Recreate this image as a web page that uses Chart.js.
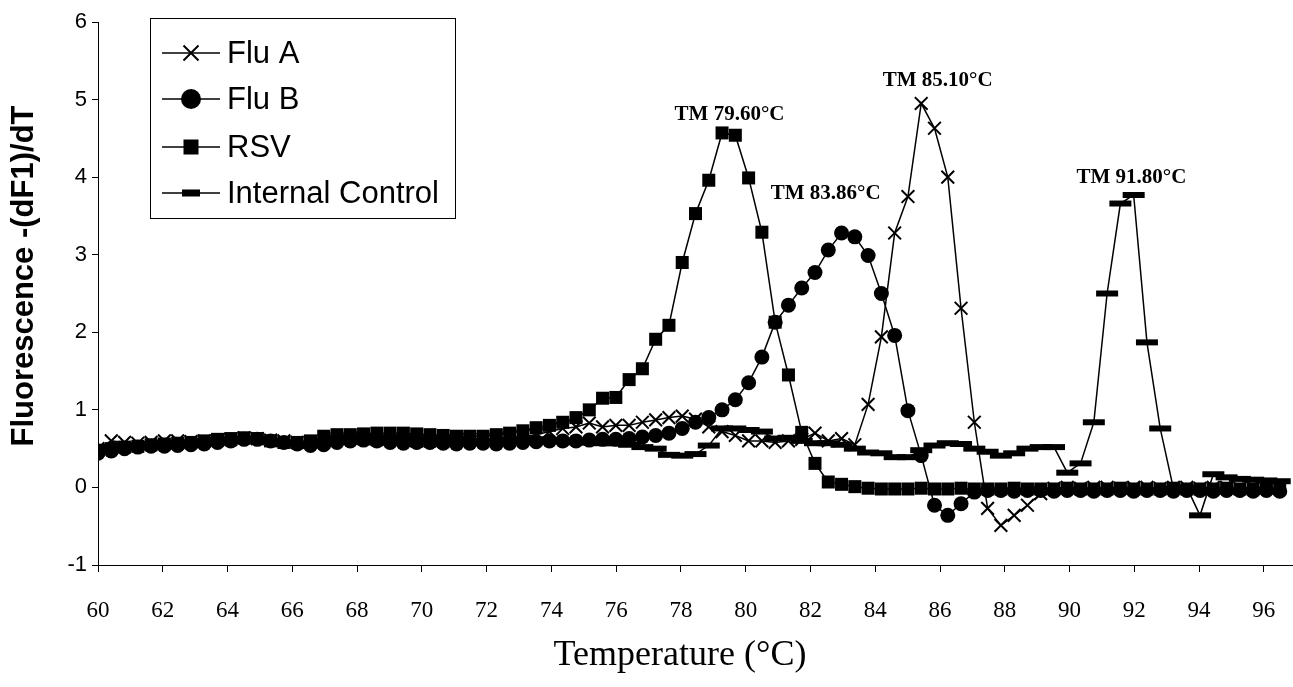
<!DOCTYPE html>
<html><head><meta charset="utf-8">
<script src="https://cdn.jsdelivr.net/npm/chart.js@4.4.1/dist/chart.umd.min.js"></script>
<style>html,body{margin:0;padding:0;background:#fff;}canvas{display:block;}</style>
</head><body>
<canvas id="c" width="1293" height="687"></canvas>
<script>
// ---- data ----
const temperatures = [
 60.00, 60.41, 60.82, 61.23, 61.64, 62.05, 62.46, 62.87, 63.28, 63.69,
 64.10, 64.51, 64.92, 65.33, 65.74, 66.15, 66.56, 66.97, 67.38, 67.79,
 68.20, 68.61, 69.02, 69.43, 69.84, 70.25, 70.66, 71.07, 71.48, 71.89,
 72.30, 72.71, 73.12, 73.53, 73.94, 74.35, 74.76, 75.17, 75.58, 75.99,
 76.40, 76.81, 77.22, 77.63, 78.04, 78.45, 78.86, 79.27, 79.68, 80.09,
 80.50, 80.91, 81.32, 81.73, 82.14, 82.55, 82.96, 83.37, 83.78, 84.19,
 84.60, 85.01, 85.42, 85.83, 86.24, 86.65, 87.06, 87.47, 87.88, 88.29,
 88.70, 89.11, 89.52, 89.93, 90.34, 90.75, 91.16, 91.57, 91.98, 92.39,
 92.80, 93.21, 93.62, 94.03, 94.44, 94.85, 95.26, 95.67, 96.08, 96.49
];
const fluA = [
 0.50, 0.60, 0.58, 0.57, 0.58, 0.60, 0.60, 0.59, 0.60, 0.61,
 0.62, 0.64, 0.63, 0.61, 0.60, 0.58, 0.58, 0.60, 0.63, 0.64,
 0.63, 0.62, 0.62, 0.61, 0.60, 0.60, 0.60, 0.61, 0.62, 0.62,
 0.63, 0.64, 0.66, 0.68, 0.72, 0.76, 0.78, 0.83, 0.78, 0.80,
 0.80, 0.84, 0.87, 0.90, 0.92, 0.88, 0.78, 0.72, 0.67, 0.60,
 0.60, 0.58, 0.60, 0.62, 0.70, 0.60, 0.63, 0.55, 1.07, 1.94,
 3.28, 3.75, 4.95, 4.63, 4.00, 2.31, 0.84, -0.27, -0.49, -0.36,
 -0.23, -0.08, -0.01, 0.00, -0.01, 0.00, 0.00, -0.01, 0.00, 0.00,
 -0.01, 0.00, 0.00, -0.01, 0.00, 0.00, -0.01, 0.00, 0.00, -0.01
];
const fluB = [
 0.44, 0.47, 0.50, 0.52, 0.53, 0.53, 0.54, 0.55, 0.56, 0.58,
 0.60, 0.62, 0.62, 0.60, 0.58, 0.56, 0.54, 0.55, 0.58, 0.60,
 0.61, 0.60, 0.58, 0.57, 0.58, 0.58, 0.57, 0.56, 0.57, 0.57,
 0.56, 0.57, 0.58, 0.59, 0.60, 0.60, 0.60, 0.61, 0.62, 0.62,
 0.63, 0.65, 0.67, 0.70, 0.76, 0.84, 0.90, 1.00, 1.13, 1.35,
 1.68, 2.13, 2.35, 2.57, 2.77, 3.06, 3.28, 3.23, 2.99, 2.50,
 1.96, 0.99, 0.41, -0.23, -0.36, -0.21, -0.06, -0.04, -0.04, -0.05,
 -0.04, -0.04, -0.05, -0.04, -0.04, -0.05, -0.04, -0.04, -0.05, -0.04,
 -0.04, -0.05, -0.04, -0.04, -0.05, -0.04, -0.04, -0.05, -0.04, -0.05
];
const rsv = [
 0.48, 0.50, 0.52, 0.53, 0.55, 0.56, 0.57, 0.58, 0.60, 0.62,
 0.63, 0.64, 0.63, 0.60, 0.58, 0.58, 0.60, 0.66, 0.68, 0.68,
 0.69, 0.70, 0.70, 0.70, 0.69, 0.68, 0.67, 0.66, 0.66, 0.66,
 0.68, 0.70, 0.73, 0.77, 0.80, 0.84, 0.90, 1.00, 1.15, 1.16,
 1.39, 1.53, 1.91, 2.09, 2.90, 3.53, 3.96, 4.57, 4.54, 3.99,
 3.29, 2.13, 1.45, 0.71, 0.31, 0.07, 0.04, 0.01, -0.01, -0.02,
 -0.02, -0.02, -0.01, -0.02, -0.02, -0.01, -0.02, -0.02, -0.02, -0.01,
 -0.02, -0.02, -0.02, -0.01, -0.02, -0.02, -0.02, -0.01, -0.02, -0.02,
 -0.02, -0.01, -0.02, -0.02, -0.02, -0.01, -0.02, -0.02, -0.01, -0.02
];
const internalControl = [
 0.50, 0.52, 0.54, 0.55, 0.56, 0.57, 0.58, 0.58, 0.60, 0.61,
 0.62, 0.63, 0.62, 0.60, 0.57, 0.56, 0.56, 0.60, 0.64, 0.65,
 0.65, 0.64, 0.64, 0.63, 0.62, 0.62, 0.62, 0.61, 0.60, 0.60,
 0.60, 0.61, 0.62, 0.62, 0.61, 0.60, 0.58, 0.58, 0.57, 0.57,
 0.55, 0.52, 0.50, 0.42, 0.41, 0.43, 0.54, 0.76, 0.76, 0.74,
 0.72, 0.63, 0.64, 0.60, 0.57, 0.57, 0.55, 0.50, 0.45, 0.44,
 0.39, 0.39, 0.48, 0.54, 0.57, 0.56, 0.50, 0.46, 0.41, 0.44,
 0.50, 0.52, 0.52, 0.19, 0.31, 0.84, 2.50, 3.66, 3.77, 1.87,
 0.76, -0.02, 0.00, -0.36, 0.17, 0.13, 0.11, 0.10, 0.09, 0.08
];
const seriesLabels = ['Flu A', 'Flu B', 'RSV', 'Internal Control'];
const tmLabels = ['TM 79.60°C', 'TM 85.10°C', 'TM 83.86°C', 'TM 91.80°C'];
const tmTemps  = [79.50, 85.93, 82.47, 91.91];
const tmValues = [4.81, 5.24, 3.79, 3.99];
const xTitle = 'Temperature (°C)';
const yTitle = 'Fluorescence -(dF1)/dT';

// ---- styles ----
const SERIF = '"Liberation Serif","Times New Roman",serif';
const SANS = '"Liberation Sans",Arial,sans-serif';
const styles = [
  {pointStyle:'crossRot', pointRadius:9, pointBorderWidth:2},
  {pointStyle:'circle', pointRadius:7.5, pointBorderWidth:0},
  {pointStyle:'rect', pointRadius:9.2, pointBorderWidth:0},
  {pointStyle:'line', pointRadius:11, pointBorderWidth:6}
];
const seriesValues = [fluA, fluB, rsv, internalControl];
const datasets = seriesValues.map((vals, s) => Object.assign({
  label: seriesLabels[s],
  data: temperatures.map((t, i) => ({x: t, y: vals[i]})),
  borderColor: '#000', backgroundColor: '#000', borderWidth: 1.5,
  pointBackgroundColor: '#000', pointBorderColor: '#000', tension: 0
}, styles[s]));

function drawMarker(ctx, style, x, y) {
  ctx.save();
  ctx.fillStyle = '#000'; ctx.strokeStyle = '#000';
  ctx.beginPath();
  if (style === 'crossRot') {
    const d = 7.5; ctx.lineWidth = 2;
    ctx.moveTo(x - d, y - d); ctx.lineTo(x + d, y + d);
    ctx.moveTo(x + d, y - d); ctx.lineTo(x - d, y + d); ctx.stroke();
  } else if (style === 'circle') {
    ctx.arc(x, y, 10, 0, Math.PI * 2); ctx.fill();
  } else if (style === 'rect') {
    ctx.fillRect(x - 7.5, y - 7.5, 15, 15);
  } else {
    ctx.fillRect(x - 9, y - 3.5, 18, 7);
  }
  ctx.restore();
}

const overlay = {
  id: 'overlay',
  afterDraw(chart) {
    const ctx = chart.ctx, xs = chart.scales.x, ys = chart.scales.y;
    ctx.save();
    ctx.fillStyle = '#000';
    ctx.textAlign = 'center'; ctx.textBaseline = 'middle';
    // melting temperature annotations
    ctx.font = 'bold 21px ' + SERIF;
    tmLabels.forEach((t, i) => ctx.fillText(t, xs.getPixelForValue(tmTemps[i]), ys.getPixelForValue(tmValues[i])));
    // axis titles
    ctx.font = '36px ' + SERIF;
    ctx.fillText(xTitle, 680, 656);
    ctx.save();
    ctx.translate(24.6, 276); ctx.rotate(-Math.PI / 2);
    ctx.font = 'bold 31px ' + SANS;
    ctx.fillText(yTitle, 0, 0);
    ctx.restore();
    // legend box
    ctx.fillStyle = '#fff'; ctx.fillRect(150.5, 18.5, 305, 200);
    ctx.strokeStyle = '#000'; ctx.lineWidth = 1; ctx.strokeRect(150.5, 18.5, 305, 200);
    const rows = [53, 99, 147, 193];
    chart.data.datasets.forEach((ds, i) => {
      const y = rows[i];
      ctx.strokeStyle = '#000'; ctx.lineWidth = 1.5;
      ctx.beginPath(); ctx.moveTo(162, y); ctx.lineTo(220, y); ctx.stroke();
      drawMarker(ctx, ds.pointStyle, 191, y);
      ctx.fillStyle = '#000'; ctx.font = '31px ' + SANS;
      ctx.textAlign = 'left'; ctx.textBaseline = 'middle';
      ctx.fillText(ds.label, 227, y + 1);
    });
    ctx.restore();
  }
};

new Chart(document.getElementById('c'), {
  type: 'line',
  data: {datasets},
  plugins: [overlay],
  options: {
    responsive: false, animation: false, events: [],
    layout: {autoPadding: false, padding: {top: 22, left: 0, right: 0, bottom: 0}},
    plugins: {legend: {display: false}, tooltip: {enabled: false}},
    scales: {
      x: {
        type: 'linear', min: 60, max: 96.9,
        ticks: {stepSize: 2, includeBounds: false, autoSkip: false, maxRotation: 0,
                font: {family: SERIF, size: 23}, color: '#000', padding: 25},
        grid: {display: true, drawOnChartArea: false, drawTicks: true, tickLength: 7, color: '#000'},
        border: {display: true, color: '#000', width: 1},
        afterFit(s) { s.height = 122; s.paddingLeft = 0; s.paddingRight = 0; }
      },
      y: {
        min: -1, max: 6,
        ticks: {stepSize: 1, font: {family: SANS, size: 22}, color: '#000', padding: 5},
        grid: {display: true, drawOnChartArea: false, drawTicks: true, tickLength: 6, color: '#000'},
        border: {display: true, color: '#000', width: 1},
        afterFit(s) { s.width = 98; s.paddingTop = 0; s.paddingBottom = 0; }
      }
    }
  }
});
</script>
</body></html>
